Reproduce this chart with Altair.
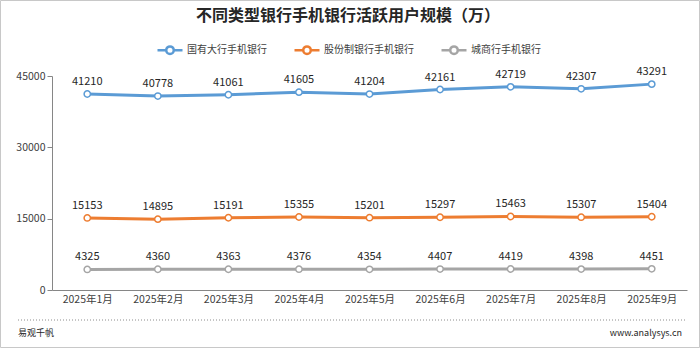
import altair as alt
import pandas as pd

months = ["2025年1月", "2025年2月", "2025年3月", "2025年4月", "2025年5月",
          "2025年6月", "2025年7月", "2025年8月", "2025年9月"]
series_names = ["国有大行手机银行", "股份制银行手机银行", "城商行手机银行"]
big_banks = [41210, 40778, 41061, 41605, 41204, 42161, 42719, 42307, 43291]
joint_stock = [15153, 14895, 15191, 15355, 15201, 15297, 15463, 15307, 15404]
city_banks = [4325, 4360, 4363, 4376, 4354, 4407, 4419, 4398, 4451]
colors = ["#5B9BD5", "#ED7D31", "#A5A5A5"]
y_ticks = [0, 15000, 30000, 45000]

rows = []
for name, vals in zip(series_names, [big_banks, joint_stock, city_banks]):
    for m, v in zip(months, vals):
        rows.append({"month": m, "series": name, "value": v})
df = pd.DataFrame(rows)

FONT = "Noto Sans CJK SC"
W, H = 635, 214
PL, PT = 52, 76

legend_path = ("M-1,0H-0.34 M0.34,0H1 "
               "M-0.3,0A0.3,0.3 0 1,0 0.3,0A0.3,0.3 0 1,0 -0.3,0")

x_enc = alt.X("month:N", sort=months, title=None,
              scale=alt.Scale(paddingOuter=0.5, paddingInner=0),
              axis=alt.Axis(labelAngle=0, ticks=False, labelFontSize=10.5,
                            labelColor="#404040", labelFont=FONT, labelPadding=4,
                            domainColor="#868686", domainWidth=1))
y_enc = alt.Y("value:Q", title=None,
              scale=alt.Scale(domain=[0, 45000], nice=False),
              axis=alt.Axis(values=y_ticks, format="d", grid=False, tickSize=5,
                            tickColor="#868686", domainColor="#868686",
                            labelFontSize=10.5, labelColor="#404040", labelFont=FONT,
                            labelPadding=2))
stroke_enc = alt.Stroke("series:N", sort=series_names,
                        scale=alt.Scale(domain=series_names, range=colors),
                        legend=alt.Legend(orient="none", legendX=104, legendY=-40,
                                          direction="horizontal", title=None,
                                          symbolType=legend_path, symbolSize=625,
                                          symbolStrokeWidth=2.5,
                                          symbolFillColor="white",
                                          labelFontSize=10, labelFont=FONT,
                                          labelColor="#404040", labelOffset=3,
                                          columnPadding=22))

base = alt.Chart(df).encode(x=x_enc, y=y_enc)

lines = base.mark_line(strokeWidth=3).encode(stroke=stroke_enc, detail="series:N")
points = base.mark_point(filled=True, fill="white", size=40, strokeWidth=1.5,
                         opacity=1).encode(stroke=stroke_enc)
labels = base.mark_text(baseline="middle", dy=-12, fontSize=11, font=FONT,
                        color="#262626").encode(text=alt.Text("value:Q", format="d"))

dummy = pd.DataFrame({"k": [0]})
title = alt.Chart(dummy).mark_text(text="不同类型银行手机银行活跃用户规模（万）",
                                   fontSize=16, fontWeight="bold", font=FONT,
                                   color="#262626", baseline="middle").encode(
    x=alt.value(348 - PL), y=alt.value(16 - PT))
rule = alt.Chart(dummy).mark_rule(color="#8c8c8c", strokeDash=[1, 2],
                                  strokeWidth=1).encode(
    x=alt.value(18 - PL), x2=alt.value(686 - PL), y=alt.value(320 - PT))
foot_l = alt.Chart(dummy).mark_text(text="易观千帆", fontSize=9, font=FONT,
                                    color="#262626", align="left",
                                    baseline="middle").encode(
    x=alt.value(18 - PL), y=alt.value(333 - PT))
foot_r = alt.Chart(dummy).mark_text(text="www.analysys.cn", fontSize=9, font=FONT,
                                    color="#262626", align="right",
                                    baseline="middle").encode(
    x=alt.value(682 - PL), y=alt.value(333 - PT))
border = alt.Chart(dummy).mark_rect(fill=None, stroke="#c8c8c8",
                                    strokeWidth=1).encode(
    x=alt.value(0.5 - PL), x2=alt.value(699.5 - PL),
    y=alt.value(0.5 - PT), y2=alt.value(347.5 - PT))

chart = alt.layer(border, lines, points, labels, title, rule, foot_l, foot_r).properties(
    width=W, height=H,
    padding={"left": PL, "top": PT, "right": 700 - PL - W, "bottom": 348 - PT - H},
    autosize=alt.AutoSizeParams(type="none"),
    background="white",
).configure_view(stroke=None)

chart.save("out.html", embed_options={"renderer": "svg", "actions": False})
